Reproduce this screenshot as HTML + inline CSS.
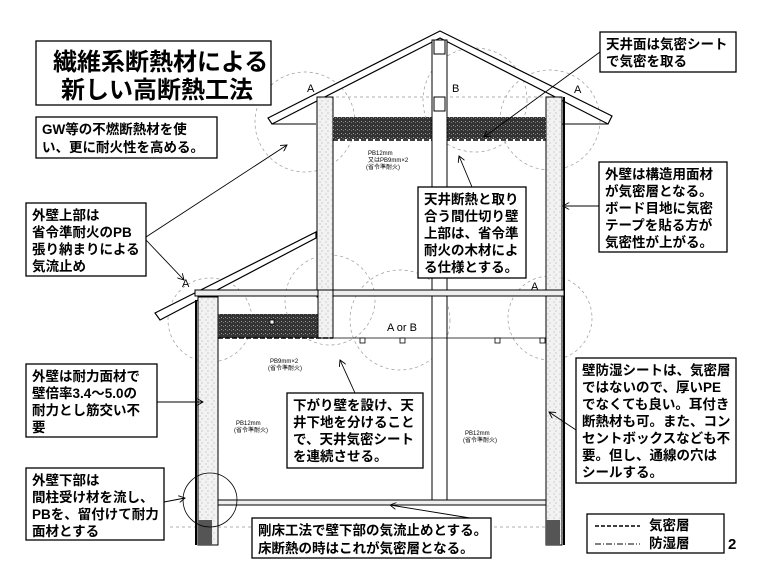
<!DOCTYPE html>
<html><head><meta charset="utf-8"><style>
html,body{margin:0;padding:0;background:#fff;}
svg{display:block;}
text{font-family:"Liberation Sans","Noto Sans CJK JP",sans-serif;fill:#000;}
.b{font-weight:bold;font-size:13.5px;}
.s{font-size:6px;}
</style></head><body>
<svg width="768" height="587" viewBox="0 0 768 587" xmlns="http://www.w3.org/2000/svg">
<defs>
<pattern id="ins" width="4" height="4" patternUnits="userSpaceOnUse"><rect width="4" height="4" fill="#333"/><rect x="1" y="1" width="1" height="1" fill="#999"/><rect x="3" y="2" width="1" height="1" fill="#777"/></pattern>
<pattern id="wall" width="6" height="6" patternUnits="userSpaceOnUse"><rect width="6" height="6" fill="#f2f2f2"/><path d="M1 2h2M3 5h2" stroke="#aaa" stroke-width="0.6"/></pattern>
<marker id="ar" markerWidth="8" markerHeight="8" refX="7" refY="4" orient="auto"><path d="M0 0L7 4L0 8" fill="none" stroke="#000" stroke-width="1"/></marker>
</defs>
<g fill="none" stroke="#999" stroke-width="0.7" stroke-dasharray="3 3">
<circle cx="305" cy="122" r="50"/><circle cx="475" cy="100" r="52"/><circle cx="550" cy="120" r="50"/>
<circle cx="210" cy="320" r="42"/><circle cx="330" cy="300" r="45"/><circle cx="400" cy="320" r="50"/><circle cx="550" cy="318" r="42"/>
<line x1="170" y1="527" x2="560" y2="527"/><line x1="330" y1="97" x2="550" y2="97"/>
</g>
<!-- roofs -->
<g stroke="#000" stroke-width="1.2" fill="#fff">
<polygon points="268,118 440,31 612,116 608,124 440,38 272,124"/>
<polygon points="155,313 316,232 316,238 160,320"/>
</g>
<line x1="272" y1="124" x2="316" y2="124" stroke="#000"/>
<line x1="562" y1="124" x2="608" y2="124" stroke="#000"/>
<!-- upper walls -->
<rect x="317" y="97" width="16" height="200" fill="url(#wall)" stroke="#000"/>
<rect x="546" y="97" width="16" height="448" fill="url(#wall)" stroke="#000"/>
<line x1="564" y1="97" x2="564" y2="545" stroke="#000" stroke-width="2"/>
<rect x="333" y="117" width="213" height="22" fill="url(#ins)"/>
<line x1="333" y1="140" x2="546" y2="140" stroke="#000" stroke-width="1.5" stroke-dasharray="5 2"/>
<!-- post -->
<rect x="432" y="40" width="15" height="465" fill="#fff" stroke="#000"/>
<rect x="434" y="40" width="11" height="14" fill="#fff" stroke="#000"/>
<rect x="434" y="97" width="11" height="14" fill="#fff" stroke="#000"/>
<!-- 2F floor -->
<rect x="195" y="290" width="369" height="6" fill="#eee" stroke="#000"/>
<!-- lower wall -->
<rect x="198" y="297" width="20" height="248" fill="url(#wall)" stroke="#000"/>
<line x1="196" y1="300" x2="196" y2="545" stroke="#000" stroke-width="2"/>
<rect x="218" y="314" width="100" height="24" fill="url(#ins)"/>
<rect x="318" y="290" width="15" height="48" fill="url(#wall)" stroke="#000"/>
<line x1="218" y1="338" x2="333" y2="338" stroke="#000" stroke-width="1.5" stroke-dasharray="5 2"/>
<line x1="333" y1="338" x2="546" y2="338" stroke="#000" stroke-width="0.8"/>
<!-- 1F floor -->
<rect x="218" y="500" width="328" height="5" fill="#eee" stroke="#000"/>
<rect x="198" y="520" width="14" height="25" fill="#555"/>
<rect x="546" y="520" width="14" height="25" fill="#555"/>
<circle cx="210" cy="500" r="27" fill="none" stroke="#000" stroke-width="0.8"/>
<g fill="#fff" stroke="#000" stroke-width="0.8">
<rect x="360" y="338" width="5" height="5"/><rect x="400" y="338" width="5" height="5"/><rect x="495" y="338" width="5" height="5"/><rect x="540" y="338" width="5" height="5"/>
<rect x="270" y="320" width="4" height="4"/>
</g>
<g font-size="11"><text x="182" y="287">A</text><text x="307" y="92">A</text><text x="452" y="92">B</text><text x="574" y="93">A</text><text x="531" y="290">A</text><text x="387" y="331">A or B</text></g>
<g class="s"><text x="368" y="155">PB12mm</text><text x="368" y="162">又はPB9mm×2</text><text x="366" y="169">(省令準耐火)</text>
<text x="270" y="363">PB9mm×2</text><text x="268" y="370">(省令準耐火)</text>
<text x="236" y="425">PB12mm</text><text x="234" y="432">(省令準耐火)</text>
<text x="465" y="435">PB12mm</text><text x="463" y="442">(省令準耐火)</text></g>
<!-- arrows -->
<g stroke="#000" stroke-width="0.9" fill="none" marker-end="url(#ar)">
<line x1="146" y1="237" x2="287" y2="145"/><line x1="146" y1="240" x2="184" y2="280"/>
<line x1="600" y1="52" x2="484" y2="137"/>
<line x1="599" y1="206" x2="563" y2="206"/>
<line x1="472" y1="187" x2="459" y2="156"/>
<line x1="157" y1="402" x2="203" y2="402"/>
<line x1="164" y1="502" x2="185" y2="498"/>
<line x1="355" y1="393" x2="340" y2="360"/>
<line x1="576" y1="430" x2="549" y2="412"/>
<line x1="470" y1="518" x2="390" y2="505"/>
</g>
<!-- boxes -->
<g fill="#fff" stroke="#000" stroke-width="1.3">
<rect x="36" y="41" width="235" height="64"/>
<rect x="36" y="117" width="181" height="41"/>
<rect x="26" y="203" width="120" height="73"/>
<rect x="600" y="32" width="136" height="40"/>
<rect x="599" y="162" width="128" height="90"/>
<rect x="418" y="187" width="108" height="91"/>
<rect x="26" y="364" width="131" height="73"/>
<rect x="26" y="468" width="138" height="72"/>
<rect x="287" y="393" width="136" height="75"/>
<rect x="252" y="518" width="239" height="40"/>
<rect x="576" y="358" width="160" height="125"/>
<rect x="587" y="514" width="137" height="39"/>
</g>
<g font-weight="bold" font-size="24"><text x="53" y="70">繊維系断熱材による</text><text x="61" y="98">新しい高断熱工法</text></g>
<g class="b">
<text x="42" y="134">GW等の不燃断熱材を使</text><text x="42" y="152">い、更に耐火性を高める。</text>
<text x="32" y="220">外壁上部は</text><text x="32" y="237">省令準耐火のPB</text><text x="32" y="254">張り納まりによる</text><text x="32" y="271">気流止め</text>
<text x="606" y="49">天井面は気密シート</text><text x="606" y="66">で気密を取る</text>
<text x="605" y="179">外壁は構造用面材</text><text x="605" y="196">が気密層となる。</text><text x="605" y="213">ボード目地に気密</text><text x="605" y="230">テープを貼る方が</text><text x="605" y="247">気密性が上がる。</text>
<text x="424" y="204">天井断熱と取り</text><text x="424" y="221">合う間仕切り壁</text><text x="424" y="238">上部は、省令準</text><text x="424" y="255">耐火の木材によ</text><text x="424" y="272">る仕様とする。</text>
<text x="32" y="381">外壁は耐力面材で</text><text x="32" y="398">壁倍率3.4～5.0の</text><text x="32" y="415">耐力とし筋交い不</text><text x="32" y="432">要</text>
<text x="32" y="485">外壁下部は</text><text x="32" y="502">間柱受け材を流し、</text><text x="32" y="519">PBを、留付けて耐力</text><text x="32" y="536">面材とする</text>
<text x="293" y="410">下がり壁を設け、天</text><text x="293" y="427">井下地を分けること</text><text x="293" y="444">で、天井気密シート</text><text x="293" y="461">を連続させる。</text>
<text x="258" y="535">剛床工法で壁下部の気流止めとする。</text><text x="258" y="553">床断熱の時はこれが気密層となる。</text>
<text x="582" y="375">壁防湿シートは、気密層</text><text x="582" y="392">ではないので、厚いPE</text><text x="582" y="409">でなくても良い。耳付き</text><text x="582" y="426">断熱材も可。また、コン</text><text x="582" y="443">セントボックスなども不</text><text x="582" y="460">要。但し、通線の穴は</text><text x="582" y="477">シールする。</text>
<text x="649" y="530">気密層</text><text x="649" y="548">防湿層</text>
</g>
<line x1="595" y1="526" x2="640" y2="526" stroke="#000" stroke-width="1.5" stroke-dasharray="4 2"/>
<line x1="595" y1="544" x2="640" y2="544" stroke="#000" stroke-width="1" stroke-dasharray="6 2 1 2"/>
<text x="728" y="549" font-size="15" font-weight="bold">2</text>
</svg>
</body></html>
